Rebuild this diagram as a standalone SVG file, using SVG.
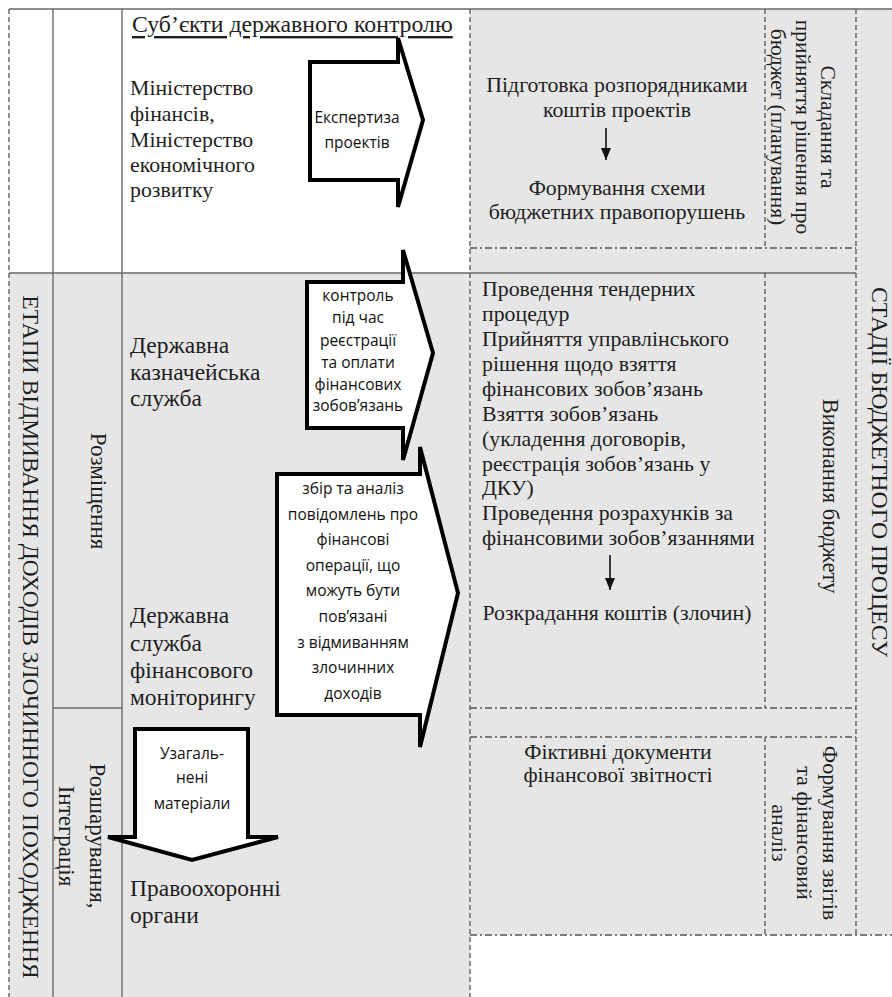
<svg xmlns="http://www.w3.org/2000/svg" width="892" height="997" viewBox="0 0 892 997">
<defs>
<style>
.s{font-family:"Liberation Serif","Times New Roman",serif;fill:#1e1e1e;dominant-baseline:central}
.m{text-anchor:middle}
.a{font-family:"Open Sans","Noto Sans",sans-serif;font-size:15.5px;font-weight:500;fill:#111;text-anchor:middle;dominant-baseline:central}
.ln{stroke:#6a6a6a;stroke-width:1.4;fill:none}
.dd{stroke:#555;stroke-width:1.3;fill:none;stroke-dasharray:7 3 2 3}
.dv{stroke:#555;stroke-width:1.3;fill:none;stroke-dasharray:5 3}
.bl{fill:#fff;stroke:#000;stroke-width:4;stroke-linejoin:miter}
</style>
<marker id="ah" viewBox="0 0 12 10" refX="12" refY="5" markerWidth="12" markerHeight="10" markerUnits="userSpaceOnUse" orient="auto">
<path d="M0,0 L12,5 L0,10 Z" fill="#111"/>
</marker>
</defs>
<g id="background">
<rect x="9" y="9" width="883" height="988" fill="#e6e6e6"/>
<rect x="9" y="9" width="461" height="264" fill="#fff"/>
<rect x="470" y="935" width="422" height="62" fill="#fff"/>
</g>
<g id="grid">
<line class="ln" x1="9" y1="9" x2="892" y2="9"/>
<line class="ln" x1="53" y1="9" x2="53" y2="997"/>
<line class="ln" x1="122" y1="9" x2="122" y2="997"/>
<line class="ln" x1="9" y1="273" x2="856" y2="273"/>
<line class="ln" x1="53" y1="708" x2="122" y2="708"/>
<line class="dv" x1="9" y1="9" x2="9" y2="997"/>
<line class="dv" x1="470" y1="9" x2="470" y2="997"/>
<line class="dv" x1="856" y1="9" x2="856" y2="935"/>
<line class="dv" x1="765" y1="9" x2="765" y2="248"/>
<line class="dv" x1="765" y1="273" x2="765" y2="708"/>
<line class="dv" x1="765" y1="737" x2="765" y2="935"/>
<line class="dd" x1="470" y1="248" x2="856" y2="248"/>
<line class="dd" x1="470" y1="708" x2="856" y2="708"/>
<line class="dd" x1="470" y1="737" x2="856" y2="737"/>
<line class="dd" x1="470" y1="935" x2="892" y2="935"/>
</g>
<g id="stage-labels">
<text class="s m" font-size="23.5" transform="translate(31,637) rotate(90)">ЕТАПИ ВІДМИВАННЯ ДОХОДІВ ЗЛОЧИННОГО ПОХОДЖЕННЯ</text>
<text class="s m" font-size="23" transform="translate(98,491) rotate(90)">Розміщення</text>
<text class="s m" font-size="23" transform="translate(97,836) rotate(90)">Розшарування,</text>
<text class="s m" font-size="23" transform="translate(66,836) rotate(90)">Інтеграція</text>
<text class="s m" font-size="23.8" transform="translate(880,472) rotate(90)">СТАДІЇ БЮДЖЕТНОГО ПРОЦЕСУ</text>
</g>
<g id="subjects-title">
<text class="s" font-size="23.8" x="132" y="24" text-decoration="underline">Суб’єкти державного контролю</text>
</g>
<g id="ministries">
<text class="s" font-size="21.8" x="130" y="88">Міністерство</text>
<text class="s" font-size="21.8" x="130" y="114">фінансів,</text>
<text class="s" font-size="21.8" x="130" y="140">Міністерство</text>
<text class="s" font-size="21.8" x="130" y="165">економічного</text>
<text class="s" font-size="21.8" x="130" y="190">розвитку</text>
</g>
<g id="treasury">
<text class="s" font-size="23.5" x="130" y="345">Державна</text>
<text class="s" font-size="23.5" x="130" y="372">казначейська</text>
<text class="s" font-size="23.5" x="130" y="398">служба</text>
</g>
<g id="finmonitoring">
<text class="s" font-size="23.5" x="130" y="615">Державна</text>
<text class="s" font-size="23.5" x="130" y="643">служба</text>
<text class="s" font-size="23.5" x="130" y="670">фінансового</text>
<text class="s" font-size="23.5" x="130" y="697">моніторингу</text>
</g>
<g id="law-enforcement">
<text class="s" font-size="23.5" x="130" y="888">Правоохоронні</text>
<text class="s" font-size="23.5" x="130" y="915">органи</text>
</g>
<g id="arrow-expertise">
<polygon class="bl" points="310,62 398,62 398,38 423,120 398,207 398,180 310,180"/>
<text class="a" x="357" y="117">Експертиза</text>
<text class="a" x="357" y="142">проектів</text>
</g>
<g id="arrow-treasury">
<polygon class="bl" points="307,282 403,282 403,250 433,353 403,460 403,428 307,428"/>
<text class="a" x="358" y="295">контроль</text>
<text class="a" x="358" y="317">під час</text>
<text class="a" x="358" y="340">реєстрації</text>
<text class="a" x="358" y="362">та оплати</text>
<text class="a" x="358" y="384">фінансових</text>
<text class="a" x="358" y="405">зобовʼязань</text>
</g>
<g id="arrow-monitoring">
<polygon class="bl" points="277,474 420,474 420,447 458,593 420,747 420,715 277,715"/>
<text class="a" x="353" y="488">збір та аналіз</text>
<text class="a" x="353" y="514">повідомлень про</text>
<text class="a" x="353" y="539">фінансові</text>
<text class="a" x="353" y="565">операції, що</text>
<text class="a" x="353" y="590">можуть бути</text>
<text class="a" x="353" y="616">повʼязані</text>
<text class="a" x="353" y="642">з відмиванням</text>
<text class="a" x="353" y="667">злочинних</text>
<text class="a" x="353" y="693">доходів</text>
</g>
<g id="arrow-materials">
<polygon class="bl" points="135,729 248,729 248,837 278,837 192,860 108,837 135,837"/>
<text class="a" x="192" y="753">Узагаль-</text>
<text class="a" x="192" y="777">нені</text>
<text class="a" x="192" y="803">матеріали</text>
</g>
<g id="planning">
<text class="s m" font-size="21.8" x="617" y="85">Підготовка розпорядниками</text>
<text class="s m" font-size="21.8" x="617" y="110">коштів проектів</text>
<text class="s m" font-size="21.8" x="617" y="188">Формування схеми</text>
<text class="s m" font-size="21.8" x="617" y="212">бюджетних правопорушень</text>
<text class="s m" font-size="21.5" transform="translate(828,127) rotate(90)">Складання та</text>
<text class="s m" font-size="21.5" transform="translate(803,127) rotate(90)">прийняття рішення про</text>
<text class="s m" font-size="21.5" transform="translate(778,127) rotate(90)">бюджет (планування)</text>
</g>
<g id="execution">
<text class="s" font-size="21.8" x="482" y="289">Проведення тендерних</text>
<text class="s" font-size="21.8" x="482" y="314">процедур</text>
<text class="s" font-size="21.8" x="482" y="339">Прийняття управлінського</text>
<text class="s" font-size="21.8" x="482" y="364">рішення щодо взяття</text>
<text class="s" font-size="21.8" x="482" y="389">фінансових зобов’язань</text>
<text class="s" font-size="21.8" x="482" y="414">Взяття зобов’язань</text>
<text class="s" font-size="21.8" x="482" y="439">(укладення договорів,</text>
<text class="s" font-size="21.8" x="482" y="464">реєстрація зобов’язань у</text>
<text class="s" font-size="21.8" x="482" y="488">ДКУ)</text>
<text class="s" font-size="21.8" x="482" y="513">Проведення розрахунків за</text>
<text class="s" font-size="21.8" x="482" y="538">фінансовими зобов’язаннями</text>
<text class="s m" font-size="21.8" x="617" y="613">Розкрадання коштів (злочин)</text>
<text class="s m" font-size="22.5" transform="translate(830,496) rotate(90)">Виконання бюджету</text>
</g>
<g id="reporting">
<text class="s m" font-size="21.8" x="618" y="752">Фіктивні документи</text>
<text class="s m" font-size="21.8" x="618" y="775">фінансової звітності</text>
<text class="s m" font-size="22" transform="translate(830,833) rotate(90)">Формування звітів</text>
<text class="s m" font-size="22" transform="translate(804,833) rotate(90)">та фінансовий</text>
<text class="s m" font-size="22" transform="translate(779,833) rotate(90)">аналіз</text>
</g>
<g id="connectors">
<line x1="606" y1="128" x2="606" y2="160" stroke="#111" stroke-width="1.6" marker-end="url(#ah)"/>
<line x1="610" y1="555" x2="610" y2="590" stroke="#111" stroke-width="1.6" marker-end="url(#ah)"/>
</g>
</svg>
